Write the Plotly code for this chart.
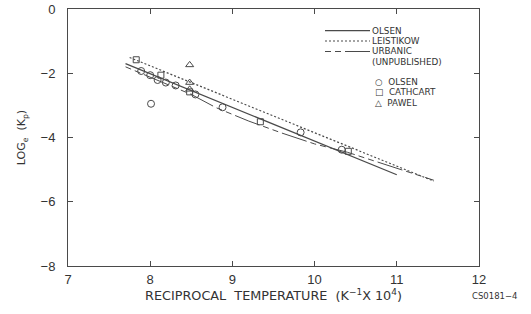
import plotly.graph_objects as go

# ---- data ----
olsen_line_x = [7.70, 11.00]
olsen_line_y = [-1.70, -5.16]

leistikow_x = [7.75, 11.45]
leistikow_y = [-1.51, -5.36]

urbanic_x = [7.70, 8.10, 8.50, 8.80, 9.20, 9.60, 10.00, 10.40, 11.00, 11.45]
urbanic_y = [-1.80, -2.22, -2.66, -3.07, -3.49, -3.86, -4.20, -4.46, -4.95, -5.33]

olsen_pts_x = [7.89, 8.00, 8.09, 8.19, 8.31, 8.01, 8.55, 8.88, 9.83, 10.33]
olsen_pts_y = [-1.93, -2.06, -2.21, -2.29, -2.38, -2.95, -2.66, -3.06, -3.84, -4.38]

cathcart_x = [7.83, 8.13, 8.48, 9.34, 10.41]
cathcart_y = [-1.58, -2.06, -2.58, -3.51, -4.43]

pawel_x = [8.48, 8.48, 8.48]
pawel_y = [-1.74, -2.29, -2.50]

x_ticks = [7, 8, 9, 10, 11, 12]
y_ticks = [0, -2, -4, -6, -8]
y_tick_text = ["0", "\u22122", "\u22124", "\u22126", "\u22128"]

line_labels = ["OLSEN", "LEISTIKOW", "URBANIC", "(UNPUBLISHED)"]
marker_labels = ["\u25CB  OLSEN", "\u25A1  CATHCART", "\u25B3  PAWEL"]

INK = "#4a4a4a"
TXT = "#333333"
FONT = "DejaVu Sans"
TICKFONT = "Liberation Sans"

fig = go.Figure()
fig.add_trace(go.Scatter(x=olsen_line_x, y=olsen_line_y, mode="lines",
                         line=dict(color=INK, width=1.2)))
fig.add_trace(go.Scatter(x=leistikow_x, y=leistikow_y, mode="lines",
                         line=dict(color=INK, width=1.2, dash="2px,2px")))
fig.add_trace(go.Scatter(x=urbanic_x, y=urbanic_y, mode="lines",
                         line=dict(color=INK, width=1.0, dash="6px,4px,6px,4px,26px,4px")))
fig.add_trace(go.Scatter(x=olsen_pts_x, y=olsen_pts_y, mode="markers",
                         marker=dict(symbol="circle-open", size=7, color=INK, line=dict(width=1))))
fig.add_trace(go.Scatter(x=cathcart_x, y=cathcart_y, mode="markers",
                         marker=dict(symbol="square-open", size=6, color=INK, line=dict(width=1))))
fig.add_trace(go.Scatter(x=pawel_x, y=pawel_y, mode="markers",
                         marker=dict(symbol="triangle-up-open", size=7, color=INK, line=dict(width=1))))

# legend (drawn as annotations + shapes)
L, R, T, B = 68, 479, 9, 266
W, H = R - L, B - T
def px(x):
    return (x - L) / W
def py(y):
    return 1 - (y - T) / H

dashes = ["solid", "2px,2px", "6px,4px,6px,4px,26px,4px"]
line_rows = [30.7, 41.0, 51.5, 62.0]
for d, yy in zip(dashes, line_rows):
    fig.add_shape(type="line", xref="paper", yref="paper",
                  x0=px(325), x1=px(370), y0=py(yy), y1=py(yy),
                  line=dict(color=INK, width=1.2, dash=d))
for lab, yy in zip(line_labels, line_rows):
    fig.add_annotation(xref="paper", yref="paper", x=px(370.5), y=py(yy),
                       text=lab, showarrow=False, xanchor="left", yanchor="middle",
                       borderpad=0, font=dict(family=FONT, size=8.8, color=TXT))
for lab, yy in zip(marker_labels, [81.7, 92.5, 103.3]):
    fig.add_annotation(xref="paper", yref="paper", x=px(374), y=py(yy),
                       text=lab, showarrow=False, xanchor="left", yanchor="middle",
                       borderpad=0, font=dict(family=FONT, size=8.8, color=TXT))

fig.add_annotation(xref="paper", yref="paper", x=px(495), y=py(296),
                   text="CS0181\u22124", showarrow=False, xanchor="center", yanchor="middle",
                   borderpad=0, font=dict(family=FONT, size=8.5, color=TXT))

fig.update_xaxes(range=[7, 12], tickvals=x_ticks, ticktext=[str(v) for v in x_ticks],
                 ticks="inside", ticklen=5, tickcolor=INK, showline=True, linecolor=INK,
                 linewidth=1, mirror="ticks", showgrid=False, zeroline=False, automargin=False,
                 tickfont=dict(family=TICKFONT, size=13, color=TXT), ticklabelstandoff=1,
                 title=dict(text="RECIPROCAL  TEMPERATURE  (K<sup>\u22121</sup>X 10<sup>4</sup>)",
                            font=dict(family=FONT, size=12.8, color=TXT), standoff=0))
fig.update_yaxes(range=[-8, 0], tickvals=y_ticks, ticktext=y_tick_text,
                 ticks="inside", ticklen=5, tickcolor=INK, showline=True, linecolor=INK,
                 linewidth=1, mirror="ticks", showgrid=False, zeroline=False, automargin=False,
                 tickfont=dict(family=TICKFONT, size=13, color=TXT), ticklabelstandoff=9,
                 title=dict(text="LOG<sub>e</sub>  (K<sub>p</sub>)",
                            font=dict(family=FONT, size=11, color=TXT), standoff=12))

fig.update_layout(width=531, height=314, showlegend=False,
                  margin=dict(l=L, r=531 - R, t=T, b=314 - B, autoexpand=False),
                  plot_bgcolor="white", paper_bgcolor="white")

fig.write_html("out.html", config={"displayModeBar": False},
               post_script="document.body.style.margin='0';document.body.style.overflow='hidden';")
